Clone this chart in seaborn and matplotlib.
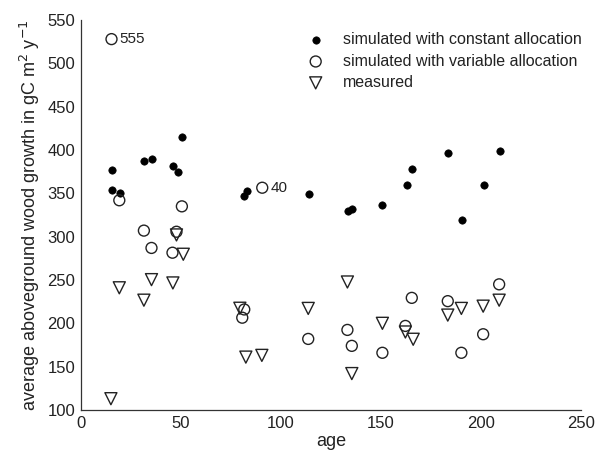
import matplotlib
matplotlib.use('Agg')
import matplotlib.pyplot as plt
import seaborn as sns

# stand ages and growth values
age_const = [15.7, 15.7, 19.5, 31.5, 35.8, 46.3, 48.8, 50.7, 81.7, 83.0,
             114.0, 133.7, 135.8, 150.8, 163.3, 165.8, 183.8, 190.7, 201.7, 209.5]
growth_const = [376.7, 354, 350, 387, 389.7, 382, 375.2, 414.9, 346.6, 352.7,
                349, 329.4, 332.4, 336.3, 359.5, 378, 396.6, 318.7, 359.5, 399]

age_var = [15.3, 19.2, 31.5, 35.3, 45.8, 47.8, 50.5, 80.7, 81.7, 90.7,
           113.7, 133.3, 135.5, 150.8, 162.3, 165.5, 183.5, 190.3, 201.2, 209.2]
growth_var = [528, 342, 307, 287, 281.5, 305.7, 335, 206.5, 216, 356.5,
              182, 192.4, 174, 166, 197, 229.4, 225.6, 166, 187.4, 245]

age_meas = [15.0, 19.2, 31.5, 35.3, 46.0, 47.8, 51.2, 79.5, 82.5, 90.5,
            113.7, 133.3, 135.5, 150.8, 162.3, 166.2, 183.5, 190.3, 201.2, 209.2]
growth_meas = [113, 241, 226.7, 250.4, 246.6, 302, 279.7, 217.4, 161, 163,
               217.2, 247.7, 142, 200, 190, 181.6, 209.5, 217.2, 219.8, 226.7]

labels = ['simulated with constant allocation',
          'simulated with variable allocation',
          'measured']
notes = [(15.3, 528, '555'), (90.7, 356.5, '40')]

sns.set_style('white')
plt.rcParams['font.family'] = ['Liberation Sans', 'DejaVu Sans']

fig = plt.figure(figsize=(5.95, 4.62), dpi=100)
ax = fig.add_axes([0.136, 0.1126, 0.840, 0.844])

sns.scatterplot(x=age_const, y=growth_const, ax=ax, marker='o', s=28,
                color='black', edgecolor='black', linewidth=0.5, label=labels[0])
sns.scatterplot(x=age_var, y=growth_var, ax=ax, marker='o', s=62,
                facecolor='none', edgecolor='#222222', linewidth=1.0, label=labels[1])
sns.scatterplot(x=age_meas, y=growth_meas, ax=ax, marker='v', s=75,
                facecolor='none', edgecolor='#222222', linewidth=1.0, label=labels[2])

for x, y, t in notes:
    ax.annotate(t, (x, y), xytext=(6, 0), textcoords='offset points',
                va='center', ha='left', fontsize=11, color='#222222')

ax.set_xlim(0, 250)
ax.set_ylim(100, 550)
ax.set_xticks([0, 50, 100, 150, 200, 250])
ax.set_yticks(range(100, 551, 50))
ax.tick_params(direction='in', length=5, width=0.8, labelsize=12,
               colors='#222222', pad=4)
sns.despine(ax=ax)
for s in ['left', 'bottom']:
    ax.spines[s].set_color('#333333')
    ax.spines[s].set_linewidth(0.9)

ax.set_xlabel('age', fontsize=13, color='#222222', labelpad=2)
ax.set_ylabel('average aboveground wood growth in gC m$^{2}$ y$^{-1}$',
              fontsize=13, color='#222222', labelpad=4)

ax.legend(loc='upper left', bbox_to_anchor=(0.425, 0.985), frameon=False,
          fontsize=11.5, handletextpad=0.69, labelspacing=0.4,
          borderaxespad=0.0, labelcolor='#222222')

fig.savefig('out.png', dpi=100)
